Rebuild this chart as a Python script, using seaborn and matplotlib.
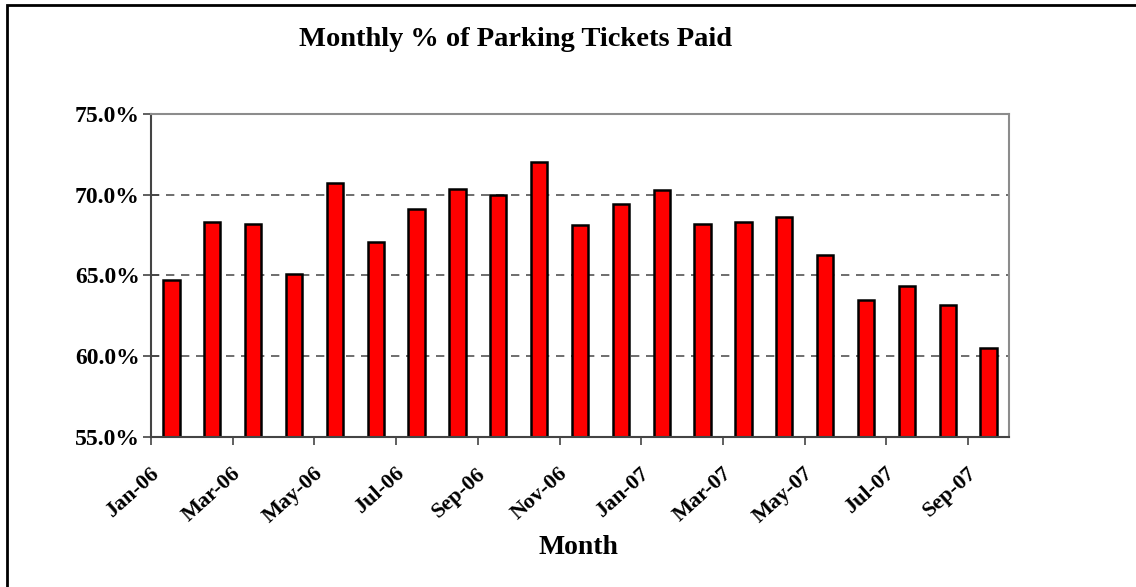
import numpy as np
import pandas as pd
import matplotlib
matplotlib.use('Agg')
import matplotlib.pyplot as plt
import matplotlib.transforms as mtransforms
from matplotlib.patches import Rectangle
from matplotlib.ticker import FuncFormatter
import seaborn as sns

months = ['Jan-06', 'Feb-06', 'Mar-06', 'Apr-06', 'May-06', 'Jun-06', 'Jul-06',
          'Aug-06', 'Sep-06', 'Oct-06', 'Nov-06', 'Dec-06', 'Jan-07', 'Feb-07',
          'Mar-07', 'Apr-07', 'May-07', 'Jun-07', 'Jul-07', 'Aug-07', 'Sep-07']
paid = [64.7, 68.3, 68.2, 65.1, 70.7, 67.1, 69.1, 70.35, 70.0, 72.05, 68.1,
        69.45, 70.3, 68.2, 68.3, 68.6, 66.3, 63.5, 64.35, 63.2, 60.5]
y_ticks = [55, 60, 65, 70, 75]

sns.set_style('white')
plt.rcParams['font.family'] = ['Liberation Serif', 'DejaVu Serif']
plt.rcParams['font.weight'] = 'bold'
plt.rcParams['text.color'] = 'black'
plt.rcParams['xtick.color'] = 'black'
plt.rcParams['ytick.color'] = 'black'

fig = plt.figure(figsize=(11.36, 5.87), dpi=100)
ax = fig.add_axes([151 / 1136, 1 - 437 / 587, 858 / 1136, 323 / 587])

df = pd.DataFrame({'Month': months, 'Paid': paid})
sns.barplot(data=df, x='Month', y='Paid', color='#ff0000', saturation=1,
            edgecolor='black', linewidth=1.8, width=0.4, ax=ax)

ax.set_xlim(-0.5, len(months) - 0.5)
ax.set_ylim(55, 75)
ax.set_yticks(y_ticks)
ax.yaxis.set_major_formatter(FuncFormatter(lambda v, p: f'{v:.1f}%'))
ax.yaxis.grid(True, color='#555555', linestyle=(0, (5, 4)), linewidth=1.2)
ax.set_axisbelow(True)

# category labels every other month, tick marks at category boundaries
ax.set_xticks(range(0, len(months), 2))
ax.set_xticklabels(months[::2], rotation=42, ha='right', va='center',
                   rotation_mode='anchor', fontsize=16, fontweight='bold')
ax.set_xticks(np.arange(-0.5, len(months) - 1, 2), minor=True)
ax.tick_params(axis='x', which='major', length=0, pad=0)
ax.tick_params(axis='x', which='minor', length=6, width=1.2, color='#444444',
               direction='out', bottom=True)
ax.tick_params(axis='y', length=12, width=1.2, color='#444444', direction='inout',
               labelsize=17, left=True, pad=2)
for lbl in ax.get_yticklabels():
    lbl.set_fontweight('bold')
off = mtransforms.ScaledTranslation(-15 / 100, -34 / 100, fig.dpi_scale_trans)
for lbl in ax.get_xticklabels():
    lbl.set_transform(lbl.get_transform() + off)

for s in ['left', 'bottom']:
    ax.spines[s].set_color('#444444')
    ax.spines[s].set_linewidth(1.5)
for s in ['top', 'right']:
    ax.spines[s].set_color('#8c8c8c')
    ax.spines[s].set_linewidth(1.5)

ax.set_xlabel('')
ax.set_ylabel('')
fig.text(516 / 1136, 1 - 40 / 587, 'Monthly % of Parking Tickets Paid',
         ha='center', va='center', fontsize=20.5, fontweight='bold')
fig.text(578 / 1136, 1 - 548 / 587, 'Month', ha='center', va='center',
         fontsize=20, fontweight='bold')

fig.patches.append(Rectangle((7 / 1136, -0.1), 1.2, 1 - 5 / 587 + 0.1,
                             transform=fig.transFigure, fill=False,
                             edgecolor='black', linewidth=2))

fig.savefig('out.png', dpi=100)
